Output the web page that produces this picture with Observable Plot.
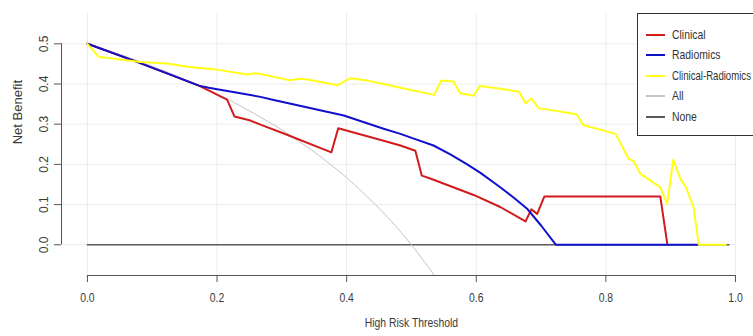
<!DOCTYPE html>
<html>
<head>
<meta charset="utf-8">
<script src="https://cdn.jsdelivr.net/npm/d3@7"></script>
<script src="https://cdn.jsdelivr.net/npm/@observablehq/plot@0.6"></script>
<style>
html, body { margin: 0; padding: 0; background: #fff; overflow: hidden; }
#wrap { position: relative; width: 753px; height: 336px; overflow: hidden; }
#legend { position: absolute; left: 637px; top: 13px; width: 150px; height: 123px; border: 1px solid #333; background: #fff; box-sizing: border-box; }
.row { position: absolute; left: 0; width: 100%; height: 0; }
.sw { position: absolute; left: 8px; width: 19px; height: 2px; top: -1px; }
.lb { position: absolute; left: 34px; top: -9px; font-size: 13px; line-height: 18px; white-space: nowrap; color: #333; transform-origin: 0 50%; }
</style>
</head>
<body>
<div id="wrap"><div id="chart"></div><div id="legend"></div></div>
<script>
// ---- data ----
const xTicks = [0, 0.2, 0.4, 0.6, 0.8, 1.0];
const yTicks = [0, 0.1, 0.2, 0.3, 0.4, 0.5];

const seriesNames = ["Clinical", "Radiomics", "Clinical-Radiomics", "All", "None"];
const seriesColors = ["#d01c1c", "#1010cc", "#ffff1a", "#c4c4c4", "#5a5a5a"];

const clinicalX = [0, 0.0765, 0.172, 0.2155, 0.227, 0.2515, 0.267, 0.303, 0.3765, 0.387, 0.457, 0.483, 0.506, 0.516, 0.529, 0.596, 0.637, 0.676, 0.685, 0.694, 0.705, 0.884, 0.895];
const clinicalY = [0.5, 0.455, 0.396, 0.361, 0.319, 0.309, 0.299, 0.277, 0.230, 0.290, 0.259, 0.247, 0.234, 0.172, 0.165, 0.124, 0.094, 0.058, 0.088, 0.077, 0.120, 0.120, 0.0];

const radiomicsX = [0, 0.0765, 0.172, 0.187, 0.236, 0.267, 0.2875, 0.3956, 0.457, 0.483, 0.5036, 0.534, 0.560, 0.586, 0.6065, 0.637, 0.658, 0.679, 0.700, 0.723, 0.943];
const radiomicsY = [0.5, 0.455, 0.396, 0.3905, 0.377, 0.368, 0.360, 0.3216, 0.2886, 0.276, 0.264, 0.247, 0.225, 0.200, 0.179, 0.143, 0.117, 0.089, 0.048, 0.0, 0.0];

const combinedX = [0, 0.017, 0.082, 0.123, 0.154, 0.195, 0.2465, 0.259, 0.267, 0.313, 0.326, 0.340, 0.386, 0.406, 0.431, 0.457, 0.483, 0.535, 0.546, 0.565, 0.575, 0.596, 0.6055, 0.637, 0.666, 0.676, 0.685, 0.696, 0.755, 0.765, 0.815, 0.835, 0.843, 0.853, 0.884, 0.8946, 0.904, 0.915, 0.923, 0.935, 0.9435, 0.985];
const combinedY = [0.5, 0.468, 0.455, 0.451, 0.443, 0.437, 0.4236, 0.427, 0.425, 0.409, 0.413, 0.411, 0.397, 0.4145, 0.409, 0.400, 0.3905, 0.373, 0.409, 0.406, 0.377, 0.371, 0.395, 0.388, 0.381, 0.352, 0.364, 0.340, 0.325, 0.298, 0.276, 0.214, 0.208, 0.177, 0.143, 0.102, 0.212, 0.164, 0.145, 0.095, 0.0, 0.0];

const allX = [0, 0.025, 0.05, 0.075, 0.1, 0.125, 0.15, 0.175, 0.2, 0.225, 0.25, 0.275, 0.3, 0.325, 0.35, 0.375, 0.4, 0.425, 0.45, 0.475, 0.5, 0.52, 0.54];
const allY = [0.5, 0.487, 0.474, 0.4595, 0.444, 0.4286, 0.412, 0.394, 0.375, 0.355, 0.333, 0.310, 0.286, 0.259, 0.231, 0.200, 0.167, 0.130, 0.091, 0.048, 0.0, -0.042, -0.087];

const noneX = [0, 0.99];
const noneY = [0, 0];

// ---- font check ----
function hasFont(f) {
  const c = document.createElement("canvas").getContext("2d");
  const s = "Clinical-Radiomics 0.123 High Risk";
  c.font = "13px monospace";
  const a = c.measureText(s).width;
  c.font = `13px '${f}', monospace`;
  const b = c.measureText(s).width;
  return Math.abs(a - b) > 0.5;
}
const narrow = hasFont("Liberation Sans Narrow");
const HFONT = narrow ? "'Liberation Sans Narrow', 'Arial Narrow', sans-serif" : "'Liberation Sans', Arial, sans-serif";
const VFONT = "'Liberation Sans', Arial, sans-serif";
const squeeze = narrow ? 1 : 0.8;

const zipXY = (xs, ys) => xs.map((x, i) => ({x, y: ys[i]}));
const clinical = zipXY(clinicalX, clinicalY);
const radiomics = zipXY(radiomicsX, radiomicsY);
const combined = zipXY(combinedX, combinedY);
const allD = zipXY(allX, allY);
const noneD = zipXY(noneX, noneY);

const xMin = -0.04, xMax = 1.0278, yMin = -0.0764, yMax = 0.5754;
const fmt = d => d.toFixed(1);

const chart = Plot.plot({
  width: 753,
  height: 336,
  marginLeft: 61,
  marginRight: 0,
  marginTop: 13,
  marginBottom: 61,
  style: {fontFamily: HFONT, fontSize: "13px", color: "#3a3a3a", background: "transparent", overflow: "hidden"},
  x: {domain: [xMin, xMax]},
  y: {domain: [yMin, yMax]},
  marks: [
    Plot.ruleY(yTicks, {x1: xMin, x2: 1.0, stroke: "#ececec", strokeWidth: 1}),
    Plot.ruleX(xTicks, {y1: yMin, y2: yMax, stroke: "#ececec", strokeWidth: 1}),
    Plot.line(noneD, {x: "x", y: "y", stroke: seriesColors[4], strokeWidth: 1.5}),
    Plot.line(allD, {x: "x", y: "y", stroke: seriesColors[3], strokeWidth: 1, curve: "monotone-x", clip: true}),
    Plot.line(clinical, {x: "x", y: "y", stroke: seriesColors[0], strokeWidth: 2, clip: true}),
    Plot.line(radiomics, {x: "x", y: "y", stroke: seriesColors[1], strokeWidth: 2, clip: true}),
    Plot.line(combined, {x: "x", y: "y", stroke: seriesColors[2], strokeWidth: 2, clip: true}),
    Plot.ruleX([xMin], {y1: 0, y2: 0.5, stroke: "#555", strokeWidth: 1}),
    Plot.ruleY([yMin], {x1: 0, x2: 1, stroke: "#555", strokeWidth: 1}),
    Plot.axisX({ticks: xTicks, tickSize: 7, tickPadding: 10, tickFormat: fmt, label: null, stroke: "#555"}),
    Plot.axisY({ticks: yTicks, tickSize: 7, tickRotate: -90, tickPadding: 7, tickFormat: fmt, label: null, stroke: "#555", fontFamily: VFONT, fontSize: 12}),
    Plot.text(["High Risk Threshold"], {x: [0.5], frameAnchor: "bottom", dy: 51, text: d => d, fontSize: 13}),
    Plot.text(["Net Benefit"], {y: [0.25], frameAnchor: "left", dx: -44, rotate: -90, text: d => d, fontFamily: VFONT, fontSize: 13})
  ]
});
document.getElementById("chart").appendChild(chart);

if (squeeze !== 1) {
  chart.querySelectorAll("text").forEach(t => {
    const tr = t.getAttribute("transform") || "";
    if (!tr.includes("rotate")) t.setAttribute("transform", tr + ` scale(${squeeze},1)`);
  });
}

// ---- legend ----
const legend = document.getElementById("legend");
seriesNames.forEach((name, i) => {
  const row = document.createElement("div");
  row.className = "row";
  row.style.top = (20.5 + i * 20.6) + "px";
  const sw = document.createElement("div");
  sw.className = "sw";
  sw.style.background = seriesColors[i];
  const lb = document.createElement("div");
  lb.className = "lb";
  lb.style.fontFamily = HFONT;
  lb.textContent = name;
  row.appendChild(sw);
  row.appendChild(lb);
  legend.appendChild(row);
  // fit each label inside the visible page width
  const r = lb.getBoundingClientRect();
  const w = lb.offsetWidth;
  let s = squeeze;
  const avail = 751 - r.left;
  if (w * s > avail) s = avail / w;
  if (s !== 1) lb.style.transform = `scaleX(${s})`;
});
</script>
</body>
</html>
